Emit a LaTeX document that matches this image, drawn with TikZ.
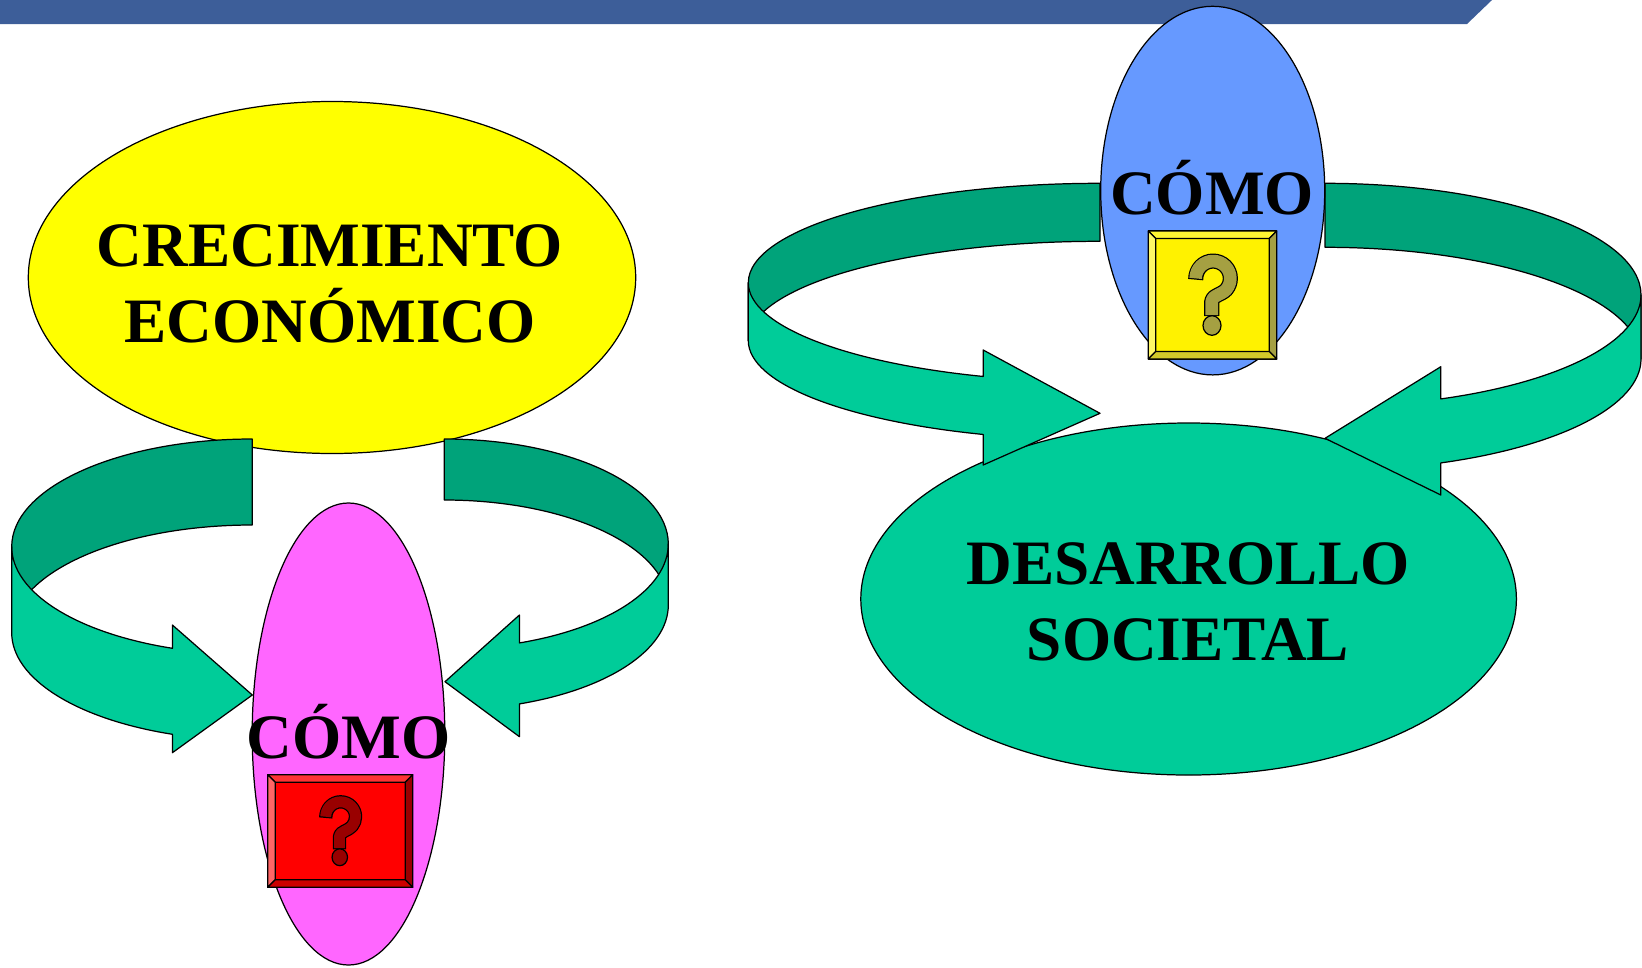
\documentclass[tikz,border=0pt]{standalone}
\usepackage{fontspec}
\setmainfont{Liberation Serif}
\usepackage{tikz}
\usepackage{xcolor}
\definecolor{BarBlue}{HTML}{3D5E99}
\definecolor{RibbonGreen}{HTML}{00CC99}
\definecolor{RibbonDark}{HTML}{00A37A}
\definecolor{EggYellow}{HTML}{FFFF00}
\definecolor{EggPink}{HTML}{FF66FF}
\definecolor{EggBlue}{HTML}{6699FF}
\tikzset{
  outline/.style={draw=black, line width=0.7pt},
  bigtext/.style={font=\fontsize{36}{43}\selectfont\bfseries, align=center, inner sep=0pt},
}

\begin{document}
\begin{tikzpicture}[x=0.02cm, y=-0.02cm, line join=round]
    \clip (0,0) rectangle (1642,967);
    \fill[BarBlue] (0,0) -- (1492,0) -- (1467,24) -- (0,24) -- cycle;
    \draw[outline, fill=EggYellow] (332,277.5) ellipse [x radius=303.7, y radius=176];
    \draw[outline, fill=RibbonGreen] (1188.6,599) ellipse [x radius=327.8, y radius=176];
    % ribbons: centre, radii, band height, top/side/end angles, head, tip
    \foreach \cx/\cy/\rx/\ry/\h/\angT/\angS/\angE/\ha/\hb/\px/\py in {
      252.3/546.7/240.6/107.7/86/270/180/109.4/625/752.7/252.3/695,
      444.3/544/224/105/61/-90/0/70.4/615/736.7/445/681.7,
      1100/282.7/351.7/99.4/58/270/180/109.4/350/465/1100/413.3,
      1325/295/316/111.7/64/-90/0/68.5/366.7/495/1325/438.3} {
     \draw[outline, fill=RibbonDark] ({\cx},{\cy-\ry})
       arc [start angle=\angT, end angle=\angS, x radius=\rx, y radius=\ry]
       -- ++(0,\h) arc [start angle=\angS, end angle=\angT, x radius=\rx, y radius=\ry] -- cycle;
     \draw[outline, fill=RibbonGreen] ({\cx+\rx*cos(\angS)},{\cy})
       arc [start angle=\angS, end angle=\angE, x radius=\rx, y radius=\ry]
       -- ({\cx+\rx*cos(\angE)},{\ha}) -- (\px,\py) -- ({\cx+\rx*cos(\angE)},{\hb})
       -- ({\cx+\rx*cos(\angE)},{\cy+\ry*sin(\angE)+\h})
       arc [start angle=\angE, end angle=\angS, x radius=\rx, y radius=\ry] -- cycle;
    }
    \draw[outline, fill=EggPink] (348.5,734) ellipse [x radius=96.3, y radius=231];
    \draw[outline, fill=EggBlue] (1212.7,190.6) ellipse [x radius=112, y radius=184.3];
    \node[bigtext] (crecimiento) at (330,284) {CRECIMIENTO\\ECONÓMICO};
    \node[bigtext] (desarrollo) at (1188,602) {DESARROLLO\\SOCIETAL};
    \node[bigtext, anchor=base] (comoA) at (348.5,758) {CÓMO};
    \node[bigtext, anchor=base] (comoB) at (1212,214) {CÓMO};
    % question boxes
    \foreach \qx/\qy/\qw/\qh/\k/\col in {340.2/831/145/112.6/0.86/red, 1212.5/295/128.4/128/1/yellow} {
     \pgfmathsetmacro\xa{\qx-\qw/2} \pgfmathsetmacro\xb{\qx+\qw/2}
     \pgfmathsetmacro\ya{\qy-\qh/2} \pgfmathsetmacro\yb{\qy+\qh/2}
     \def\b{7.5}
     \draw[outline, fill=\col] (\xa,\ya) rectangle (\xb,\yb);
     \draw[outline, fill=\col!80!white] (\xa,\ya) -- (\xb,\ya) -- ({\xb-\b},{\ya+\b}) -- ({\xa+\b},{\ya+\b}) -- cycle;
     \draw[outline, fill=\col!60!white] (\xa,\ya) -- ({\xa+\b},{\ya+\b}) -- ({\xa+\b},{\yb-\b}) -- (\xa,\yb) -- cycle;
     \draw[outline, fill=\col!60!black] (\xb,\ya) -- (\xb,\yb) -- ({\xb-\b},{\yb-\b}) -- ({\xb-\b},{\ya+\b}) -- cycle;
     \draw[outline, fill=\col!80!black] (\xa,\yb) -- (\xb,\yb) -- ({\xb-\b},{\yb-\b}) -- ({\xa+\b},{\yb-\b}) -- cycle;
     \draw[line width=7.2pt*\k, draw=\col!60!black,
       preaction={draw=black, line width=7.2pt*\k+1.4pt, shorten <=-0.7pt, shorten >=-0.7pt}]
       ({\qx+0.5*\k-17.35*\k},{\qy-16.6*\k})
       arc [start angle=180, end angle=400, radius=17.35*\k]
       .. controls ({\qx+9.9*\k},{\qy-0.8*\k}) and ({\qx-0.8*\k},{\qy+1*\k}) .. ({\qx-0.8*\k},{\qy+6*\k})
       -- ({\qx-0.8*\k},{\qy+20*\k});
     \draw[outline, fill=\col!60!black] ({\qx-0.5*\k},{\qy+30.5*\k}) ellipse [x radius=9*\k, y radius=9.8*\k];
    }
\end{tikzpicture}
\end{document}
